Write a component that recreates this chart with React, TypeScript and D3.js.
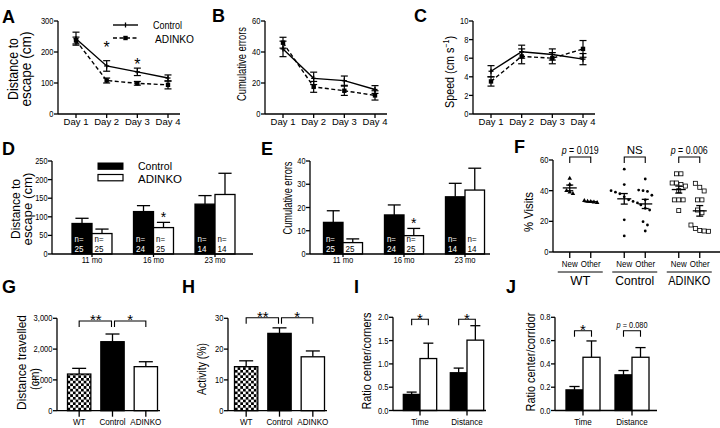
import React from 'react';
import * as d3 from 'd3';

const FONT = "'Liberation Sans', Arial, Helvetica, sans-serif";

// ---------- A, B, C : line plots ----------
const days = ['Day 1', 'Day 2', 'Day 3', 'Day 4'];
const distCtrl = [243, 155, 136, 116];
const distCtrlErr = [21, 17, 12, 10];
const distKo = [237, 108, 99, 94];
const distKoErr = [11, 8, 6, 13];
const distStarDays = ['Day 2', 'Day 3'];
const distStarVals = [228, 171];
const errCtrl = [42, 23, 21.5, 15.8];
const errCtrlErr = [5, 4, 3, 2.5];
const errKo = [46, 17.5, 15, 12];
const errKoErr = [3.5, 3.5, 3, 3];
const spdCtrl = [4.6, 6.7, 6.4, 5.9];
const spdCtrlErr = [0.6, 0.7, 0.6, 0.6];
const spdKo = [3.5, 6.2, 6.0, 7.0];
const spdKoErr = [0.5, 0.8, 0.6, 0.9];

// ---------- D, E : grouped bars by age ----------
const ages = ['11 mo', '16 mo', '23 mo'];
const genotypes = ['Control', 'ADINKO'];
const dCtrl = [82, 114, 134];
const dCtrlErr = [14, 16, 23];
const dKo = [55, 71, 160];
const dKoErr = [12, 14, 57];
const eCtrl = [13.6, 16.8, 24.6];
const eCtrlErr = [5, 4.3, 5.8];
const eKo = [4.9, 7.9, 27.5];
const eKoErr = [1.6, 3.1, 9.4];
const nCtrl = [25, 24, 14];
const nKo = [25, 25, 14];
const dStarVal = 107;
const eStarVal = 14.8;

// ---------- F : scatter ----------
const fGroups = ['WT', 'Control', 'ADINKO'];
const fConds = ['New', 'Other'];
const wtNew = [48, 44, 40, 39, 38];
const wtOther = [33.5, 33, 32.8, 32.5, 32.2];
const ctrlNew = [54, 44, 40, 39, 38, 36, 34, 33, 32, 21, 10.5];
const ctrlOther = [47.6, 40.4, 40, 39.5, 37, 34, 30.7, 28.5, 27.4, 19.8, 17.6, 13.7];
const koNew = [51, 51, 45, 45, 44, 43, 40, 34, 34, 34, 27];
const koOther = [44.8, 42.2, 39.8, 34, 34, 27.4, 25.6, 17.6, 15.4, 14, 13.5, 13.7];
const fPLabels = ['p = 0.019', 'NS', 'p = 0.006'];
const fBracketVal = 62;

// ---------- G, H ----------
const ghGroups = ['WT', 'Control', 'ADINKO'];
const gVals = [1190, 2240, 1430];
const gErrs = [185, 250, 160];
const hVals = [14.3, 25.1, 17.5];
const hErrs = [1.9, 1.8, 1.9];
const ghLabels = ['**', '*'];

// ---------- I, J ----------
const measures = ['Time', 'Distance'];
const iCtrl = [0.345, 0.81];
const iCtrlErr = [0.05, 0.1];
const iKo = [1.115, 1.51];
const iKoErr = [0.33, 0.31];
const jCtrl = [0.177, 0.306];
const jCtrlErr = [0.029, 0.037];
const jKo = [0.457, 0.457];
const jKoErr = [0.14, 0.083];
const iLabels = ['*', '*'];
const jLabels = ['*', 'p = 0.080'];

const SW = 1.3;

function Letter({ x, y, t }: any) {
  return <text x={x} y={y} fontSize={18} fontWeight="bold">{t}</text>;
}

function VTitle({ x, cy, lines, fs, lens, gap = 12 }: any) {
  return (
    <g transform={`translate(${x},${cy}) rotate(-90)`}>
      {lines.map((l: any, i: number) => (
        <text key={i} x={0} y={i * gap} textAnchor="middle" fontSize={fs}
          {...(lens ? { textLength: lens[i], lengthAdjust: 'spacingAndGlyphs' } : {})}>{l}</text>
      ))}
    </g>
  );
}

function YAxis({ x, y, ticks, fmt, fs = 9 }: any) {
  const [r0, r1] = y.range();
  return (
    <g>
      <line x1={x} x2={x} y1={r0} y2={r1} stroke="#000" strokeWidth={SW} />
      {ticks.map((t: number) => (
        <g key={t}>
          <line x1={x - 4} x2={x} y1={y(t)} y2={y(t)} stroke="#000" strokeWidth={SW} />
          <text transform={`translate(${x - 4.5},${y(t)}) scale(0.84,1)`} dy="0.35em" textAnchor="end" fontSize={fs}>{fmt(t)}</text>
        </g>
      ))}
    </g>
  );
}

function XAxis({ x0, x1, y, pos, labels, tick = 4, ly, fs = 9, sx = 1 }: any) {
  return (
    <g>
      <line x1={x0} x2={x1} y1={y} y2={y} stroke="#000" strokeWidth={SW} />
      {pos.map((p: number, i: number) => (
        <g key={i}>
          <line x1={p} x2={p} y1={y} y2={y + tick} stroke="#000" strokeWidth={SW} />
          <text transform={`translate(${p},${ly}) scale(${sx},1)`} textAnchor="middle" fontSize={fs}>{labels[i]}</text>
        </g>
      ))}
    </g>
  );
}

function Star({ x, cy, fs = 15, t = '*' }: any) {
  return <text x={x} y={cy + 0.585 * fs} textAnchor="middle" fontSize={fs}>{t}</text>;
}

function Bracket({ x1, x2, y, leg = 6 }: any) {
  return <path d={`M${x1},${y + leg}V${y}H${x2}V${y + leg}`} fill="none" stroke="#000" strokeWidth={1.1} />;
}

function LinePanel({ ax, ymax, ticks, ctrl, ctrlErr, ko, koErr, starDays, starVals }: any) {
  const top = 21, bot = 114;
  const y = d3.scaleLinear().domain([0, ymax]).range([bot, top]);
  const x = d3.scalePoint<string>().domain(days).range([ax + 18, ax + 110]);
  const ln = d3.line<number>().x((_, i) => x(days[i])!).y(d => y(d));
  const errs = (vals: number[], es: number[]) => vals.map((v, i) => {
    const cx = x(days[i])!;
    const y1 = y(v - es[i]), y2 = y(v + es[i]);
    return (
      <g key={i} stroke="#000" strokeWidth={1.2}>
        <line x1={cx} x2={cx} y1={y1} y2={y2} />
        <line x1={cx - 3.5} x2={cx + 3.5} y1={y1} y2={y1} />
        <line x1={cx - 3.5} x2={cx + 3.5} y1={y2} y2={y2} />
      </g>
    );
  });
  return (
    <g>
      <YAxis x={ax} y={y} ticks={ticks} fmt={(t: number) => String(t)} />
      <XAxis x0={ax} x1={ax + 122} y={bot} pos={days.map(d => x(d))} labels={days} ly={bot + 11} fs={9.5} />
      {errs(ctrl, ctrlErr)}
      {errs(ko, koErr)}
      <path d={ln(ctrl)!} fill="none" stroke="#000" strokeWidth={1.4} />
      <path d={ln(ko)!} fill="none" stroke="#000" strokeWidth={1.4} strokeDasharray="4,2.5" />
      {ctrl.map((v: number, i: number) => (
        <g key={'c' + i} stroke="#000" strokeWidth={1.3}>
          <line x1={x(days[i])!} x2={x(days[i])!} y1={y(v) - 2.5} y2={y(v) + 2.5} />
          <line x1={x(days[i])! - 2.5} x2={x(days[i])! + 2.5} y1={y(v)} y2={y(v)} />
        </g>
      ))}
      {ko.map((v: number, i: number) => (
        <rect key={'k' + i} x={x(days[i])! - 2.2} y={y(v) - 2.2} width={4.4} height={4.4} fill="#000" />
      ))}
      {(starDays || []).map((d: string, i: number) => (
        <Star key={'s' + i} x={x(d)} cy={y(starVals[i])} fs={16} />
      ))}
    </g>
  );
}

function AgeBars({ ax, axisEnd, range, pad, ymax, ticks, ctrl, ctrlErr, ko, koErr, starVal }: any) {
  const top = 161, bot = 254;
  const y = d3.scaleLinear().domain([0, ymax]).range([bot, top]);
  const x = d3.scaleBand<string>().domain(ages).range(range).paddingInner(pad).paddingOuter(pad / 2);
  const sub = d3.scaleBand<string>().domain(genotypes).range([0, x.bandwidth()]);
  const bw = sub.bandwidth();
  const series = [ctrl, ko];
  const serr = [ctrlErr, koErr];
  const ns = [nCtrl, nKo];
  return (
    <g>
      <YAxis x={ax} y={y} ticks={ticks} fmt={(t: number) => String(t)} fs={8.8} />
      {ages.map((a, gi) => genotypes.map((g, si) => {
        const bx = x(a)! + sub(g)!;
        const v = series[si][gi], e = serr[si][gi];
        const cx = bx + bw / 2;
        const h = bot - y(v);
        const col = si === 0 ? '#fff' : '#000';
        return (
          <g key={a + g}>
            <line x1={cx} x2={cx} y1={y(v)} y2={y(v + e)} stroke="#000" strokeWidth={SW} />
            <line x1={cx - bw * 0.33} x2={cx + bw * 0.33} y1={y(v + e)} y2={y(v + e)} stroke="#000" strokeWidth={SW} />
            <rect x={bx} y={y(v)} width={bw} height={h} fill={si === 0 ? '#000' : '#fff'} stroke="#000" strokeWidth={SW} />
            {h >= 15 && <text x={bx + 2.5} y={bot - 12.3} fontSize={9.5} fill={col} textLength={9} lengthAdjust="spacingAndGlyphs">n=</text>}
            <text x={bx + 2.5} y={bot - 2.3} fontSize={9.5} fill={col} textLength={9} lengthAdjust="spacingAndGlyphs">{ns[si][gi]}</text>
          </g>
        );
      }))}
      <XAxis x0={ax} x1={axisEnd} y={bot} pos={ages.map(a => x(a)! + x.bandwidth() / 2)} labels={ages} ly={263} fs={9} sx={0.85} tick={3} />
      <Star x={x('16 mo')! + sub('ADINKO')! + bw / 2} cy={y(starVal)} fs={14} />
    </g>
  );
}

function swarm(vals: number[], thr = 2.6, step = 4.4): number[] {
  const idx = vals.map((_, i) => i).sort((a, b) => vals[b] - vals[a]);
  const off = new Array(vals.length).fill(0);
  let cluster: number[] = [];
  const flush = () => {
    const k = cluster.length;
    cluster.forEach((id, j) => { off[id] = (j - (k - 1) / 2) * step; });
    cluster = [];
  };
  idx.forEach(id => {
    if (cluster.length && vals[cluster[cluster.length - 1]] - vals[id] > thr) flush();
    cluster.push(id);
  });
  flush();
  return off;
}

function ScatterF() {
  const ax = 553, top = 160, bot = 252;
  const y = d3.scaleLinear().domain([0, 60]).range([bot, top]);
  const gx = d3.scaleBand<string>().domain(fGroups).range([553, 716.5]);
  const cx = d3.scalePoint<string>().domain(fConds).range([-10.5, 10.5]);
  const data = [[wtNew, wtOther], [ctrlNew, ctrlOther], [koNew, koOther]];
  const groupLens = [20, 39, 42];
  const pos: number[] = [];
  const labs: string[] = [];
  fGroups.forEach(g => fConds.forEach(c => { pos.push(gx(g)! + gx.bandwidth() / 2 + cx(c)!); labs.push(c); }));
  const tri = d3.symbol().type(d3.symbolTriangle).size(9)()!;
  return (
    <g>
      <YAxis x={ax} y={y} ticks={[0, 20, 40, 60]} fmt={(t: number) => String(t)} />
      <XAxis x0={ax} x1={720} y={bot} pos={pos} labels={labs} ly={266.5} fs={9} sx={0.88} tick={6} />
      {fGroups.map((g, gi) => {
        const gc = gx(g)! + gx.bandwidth() / 2;
        return (
          <g key={g}>
            <line x1={gc - 22.5} x2={gc + 22.5} y1={272} y2={272} stroke="#000" strokeWidth={1} />
            <text x={gc} y={285} textAnchor="middle" fontSize={12.5} textLength={groupLens[gi]} lengthAdjust="spacingAndGlyphs">{g}</text>
            <Bracket x1={gc + cx('New')!} x2={gc + cx('Other')!} y={y(fBracketVal)} />
            <text x={gc} y={y(fBracketVal) - 3} textAnchor="middle" fontSize={fPLabels[gi] === 'NS' ? 11.5 : 10}
              {...(fPLabels[gi] === 'NS' ? {} : { textLength: 37, lengthAdjust: 'spacingAndGlyphs' })}>
              {fPLabels[gi].startsWith('p') ? (<><tspan fontStyle="italic">p</tspan>{fPLabels[gi].slice(1)}</>) : fPLabels[gi]}
            </text>
            {fConds.map((c, ci) => {
              const vals = data[gi][ci];
              const px = gc + cx(c)!;
              const off = swarm(vals, 2.6, gi === 0 ? 3.2 : 4.4);
              const m = d3.mean(vals)!;
              const se = d3.deviation(vals)! / Math.sqrt(vals.length);
              return (
                <g key={c}>
                  {vals.map((v, i) => {
                    const xx = px + off[i], yy = y(v);
                    if (gi === 0) return <path key={i} d={tri} transform={`translate(${xx},${yy})`} fill="#000" />;
                    if (gi === 1) return <circle key={i} cx={xx} cy={yy} r={1.4} fill="#000" />;
                    return <rect key={i} x={xx - 2} y={yy - 2} width={4} height={4} fill="#fff" stroke="#000" strokeWidth={0.8} />;
                  })}
                  <g stroke="#000" strokeWidth={1.3}>
                    <line x1={px - 7} x2={px + 7} y1={y(m)} y2={y(m)} />
                    <line x1={px} x2={px} y1={y(m - se)} y2={y(m + se)} />
                    <line x1={px - 3.5} x2={px + 3.5} y1={y(m - se)} y2={y(m - se)} />
                    <line x1={px - 3.5} x2={px + 3.5} y1={y(m + se)} y2={y(m + se)} />
                  </g>
                </g>
              );
            })}
          </g>
        );
      })}
    </g>
  );
}

function TriBars({ ax, axisEnd, range, ymax, ticks, fmt, vals, errs, bracketV }: any) {
  const top = 318.3, bot = 410.7;
  const y = d3.scaleLinear().domain([0, ymax]).range([bot, top]);
  const x = d3.scaleBand<string>().domain(ghGroups).range(range).paddingInner(0.3).paddingOuter(0.15);
  const bw = x.bandwidth();
  const fills = ['url(#checker)', '#000', '#fff'];
  const c = (g: string) => x(g)! + bw / 2;
  const by = y(bracketV);
  return (
    <g>
      <YAxis x={ax} y={y} ticks={ticks} fmt={fmt} fs={9} />
      {ghGroups.map((g, i) => (
        <g key={g}>
          <line x1={c(g)} x2={c(g)} y1={y(vals[i])} y2={y(vals[i] + errs[i])} stroke="#000" strokeWidth={SW} />
          <line x1={c(g) - bw * 0.3} x2={c(g) + bw * 0.3} y1={y(vals[i] + errs[i])} y2={y(vals[i] + errs[i])} stroke="#000" strokeWidth={SW} />
          <rect x={x(g)} y={y(vals[i])} width={bw} height={bot - y(vals[i])} fill={fills[i]} stroke="#000" strokeWidth={SW} />
        </g>
      ))}
      <XAxis x0={ax} x1={axisEnd} y={bot} pos={ghGroups.map(c)} labels={ghGroups} ly={425} fs={9} sx={0.9} tick={6} />
      <Bracket x1={c('WT')} x2={c('Control') - 1} y={by} />
      <Bracket x1={c('Control') + 2} x2={c('ADINKO')} y={by} />
      <Star x={(c('WT') + c('Control')) / 2} cy={by - 4.5} t={ghLabels[0]} />
      <Star x={(c('Control') + c('ADINKO')) / 2 + 1} cy={by - 4.5} t={ghLabels[1]} />
    </g>
  );
}

function PairBars({ ax, axisEnd, range, pad, ymax, ticks, ctrl, ctrlErr, ko, koErr, bracketV, labels }: any) {
  const top = 317.3, bot = 410.5;
  const y = d3.scaleLinear().domain([0, ymax]).range([bot, top]);
  const x = d3.scaleBand<string>().domain(measures).range(range).paddingInner(pad).paddingOuter(pad / 2);
  const sub = d3.scaleBand<string>().domain(genotypes).range([0, x.bandwidth()]);
  const bw = sub.bandwidth();
  const series = [ctrl, ko];
  const serr = [ctrlErr, koErr];
  const by = y(bracketV);
  return (
    <g>
      <YAxis x={ax} y={y} ticks={ticks} fmt={d3.format('.1f')} fs={9} />
      {measures.map((m, gi) => genotypes.map((g, si) => {
        const bx = x(m)! + sub(g)!;
        const v = series[si][gi], e = serr[si][gi];
        const cx = bx + bw / 2;
        return (
          <g key={m + g}>
            <line x1={cx} x2={cx} y1={y(v)} y2={y(v + e)} stroke="#000" strokeWidth={SW} />
            <line x1={cx - bw * 0.3} x2={cx + bw * 0.3} y1={y(v + e)} y2={y(v + e)} stroke="#000" strokeWidth={SW} />
            <rect x={bx} y={y(v)} width={bw} height={bot - y(v)} fill={si === 0 ? '#000' : '#fff'} stroke="#000" strokeWidth={SW} />
          </g>
        );
      }))}
      <XAxis x0={ax} x1={axisEnd} y={bot} pos={measures.map(m => x(m)! + x.bandwidth() / 2)} labels={measures} ly={425} fs={9} sx={0.9} tick={5} />
      {measures.map((m, gi) => {
        const x1 = x(m)! + bw / 2, x2 = x(m)! + bw * 1.5;
        const isP = labels[gi].startsWith('p');
        return (
          <g key={m}>
            <Bracket x1={x1} x2={x2} y={by} />
            {isP ? (
              <text x={(x1 + x2) / 2} y={by - 3} textAnchor="middle" fontSize={9.5} textLength={31} lengthAdjust="spacingAndGlyphs">
                <tspan fontStyle="italic">p</tspan>{labels[gi].slice(1)}
              </text>
            ) : <Star x={(x1 + x2) / 2} cy={by - 4.5} t={labels[gi]} />}
          </g>
        );
      })}
    </g>
  );
}

export default function App() {
  return (
    <svg width={720} height={428} style={{ position: 'absolute', left: 0, top: 0, background: '#fff' }} fontFamily={FONT}>
      <defs>
        <pattern id="checker" width={5.4} height={5.4} patternUnits="userSpaceOnUse">
          <rect width={5.4} height={5.4} fill="#fff" />
          <rect width={2.7} height={2.7} fill="#000" />
          <rect x={2.7} y={2.7} width={2.7} height={2.7} fill="#000" />
        </pattern>
      </defs>

      {/* A */}
      <Letter x={2} y={23} t="A" />
      <VTitle x={18} cy={69} lines={['Distance to', 'escape (cm)']} fs={14} gap={12.5} lens={[62, 75]} />
      <LinePanel ax={58} ymax={300} ticks={[0, 100, 200, 300]} ctrl={distCtrl} ctrlErr={distCtrlErr} ko={distKo} koErr={distKoErr}
        starDays={distStarDays} starVals={distStarVals} />
      <g>
        <line x1={113} x2={138} y1={25} y2={25} stroke="#000" strokeWidth={1.4} />
        <line x1={125.5} x2={125.5} y1={22.5} y2={27.5} stroke="#000" strokeWidth={1.3} />
        <text x={153} y={29} fontSize={11.5} textLength={29} lengthAdjust="spacingAndGlyphs">Control</text>
        <line x1={113} x2={138} y1={38} y2={38} stroke="#000" strokeWidth={1.4} strokeDasharray="4,2.5" />
        <rect x={123.3} y={35.8} width={4.4} height={4.4} fill="#000" />
        <text x={155} y={42.5} fontSize={11.5} textLength={39} lengthAdjust="spacingAndGlyphs">ADINKO</text>
      </g>

      {/* B */}
      <Letter x={212} y={22} t="B" />
      <VTitle x={246} cy={64} lines={['Cumulative errors']} fs={12} lens={[74]} />
      <LinePanel ax={265} ymax={60} ticks={[0, 20, 40, 60]} ctrl={errCtrl} ctrlErr={errCtrlErr} ko={errKo} koErr={errKoErr} />

      {/* C */}
      <Letter x={414} y={22} t="C" />
      <g transform="translate(454,72) rotate(-90)">
        <text x={0} y={0} textAnchor="middle" fontSize={13} textLength={72} lengthAdjust="spacingAndGlyphs">
          Speed (cm s<tspan fontSize={8.5} dy={-5}>−1</tspan><tspan dy={5}>)</tspan>
        </text>
      </g>
      <LinePanel ax={473} ymax={10} ticks={[0, 2, 4, 6, 8, 10]} ctrl={spdCtrl} ctrlErr={spdCtrlErr} ko={spdKo} koErr={spdKoErr} />

      {/* D */}
      <Letter x={2} y={155} t="D" />
      <VTitle x={20} cy={209} lines={['Distance to', 'escape (cm)']} fs={13.5} gap={11.5} lens={[60, 73]} />
      <AgeBars ax={52} axisEnd={253} range={[61.25, 245.75]} pad={0.35} ymax={250} ticks={[0, 50, 100, 150, 200, 250]}
        ctrl={dCtrl} ctrlErr={dCtrlErr} ko={dKo} koErr={dKoErr} starVal={dStarVal} />
      <g>
        <rect x={98} y={163} width={25} height={6.3} fill="#000" stroke="#000" strokeWidth={1} />
        <text x={138} y={170} fontSize={11} textLength={34} lengthAdjust="spacingAndGlyphs">Control</text>
        <rect x={98} y={174.5} width={25} height={6.3} fill="#fff" stroke="#000" strokeWidth={1.2} />
        <text x={138} y={182.8} fontSize={11} textLength={44} lengthAdjust="spacingAndGlyphs">ADINKO</text>
      </g>

      {/* E */}
      <Letter x={261} y={155} t="E" />
      <VTitle x={292} cy={198} lines={['Cumulative errors']} fs={12.5} lens={[73]} />
      <AgeBars ax={310} axisEnd={490} range={[312.5, 495.5]} pad={0.36} ymax={40} ticks={[0, 10, 20, 30, 40]}
        ctrl={eCtrl} ctrlErr={eCtrlErr} ko={eKo} koErr={eKoErr} starVal={eStarVal} />

      {/* F */}
      <Letter x={514} y={153} t="F" />
      <VTitle x={533} cy={212} lines={['% Visits']} fs={13} lens={[40]} />
      <ScatterF />

      {/* G */}
      <Letter x={2} y={293} t="G" />
      <VTitle x={26} cy={362.5} lines={['Distance travelled']} fs={13.5} lens={[95]} />
      <VTitle x={39} cy={379} lines={['(cm)']} fs={12} lens={[22]} />
      <TriBars ax={57} axisEnd={160} range={[62.5, 162.5]} ymax={3000} ticks={[0, 1000, 2000, 3000]} fmt={d3.format(',')}
        vals={gVals} errs={gErrs} bracketV={2910} />

      {/* H */}
      <Letter x={182} y={293} t="H" />
      <VTitle x={206} cy={369} lines={['Activity (%)']} fs={12} lens={[52]} />
      <TriBars ax={228} axisEnd={327} range={[229.5, 329.5]} ymax={30} ticks={[0, 10, 20, 30]} fmt={(t: number) => String(t)}
        vals={hVals} errs={hErrs} bracketV={30.2} />

      {/* I */}
      <Letter x={354} y={293} t="I" />
      <VTitle x={371} cy={361} lines={['Ratio center/corners']} fs={12.5} lens={[97]} />
      <PairBars ax={393} axisEnd={486} range={[396.5, 490.5]} pad={0.29} ymax={2} ticks={[0, 0.5, 1, 1.5, 2]}
        ctrl={iCtrl} ctrlErr={iCtrlErr} ko={iKo} koErr={iKoErr} bracketV={1.957} labels={iLabels} />

      {/* J */}
      <Letter x={506} y={293} t="J" />
      <VTitle x={535} cy={362} lines={['Ratio center/corridor']} fs={12.5} lens={[99]} />
      <PairBars ax={555} axisEnd={657} range={[558.5, 656.5]} pad={0.306} ymax={0.8} ticks={[0, 0.2, 0.4, 0.6, 0.8]}
        ctrl={jCtrl} ctrlErr={jCtrlErr} ko={jKo} koErr={jKoErr} bracketV={0.685} labels={jLabels} />
    </svg>
  );
}
